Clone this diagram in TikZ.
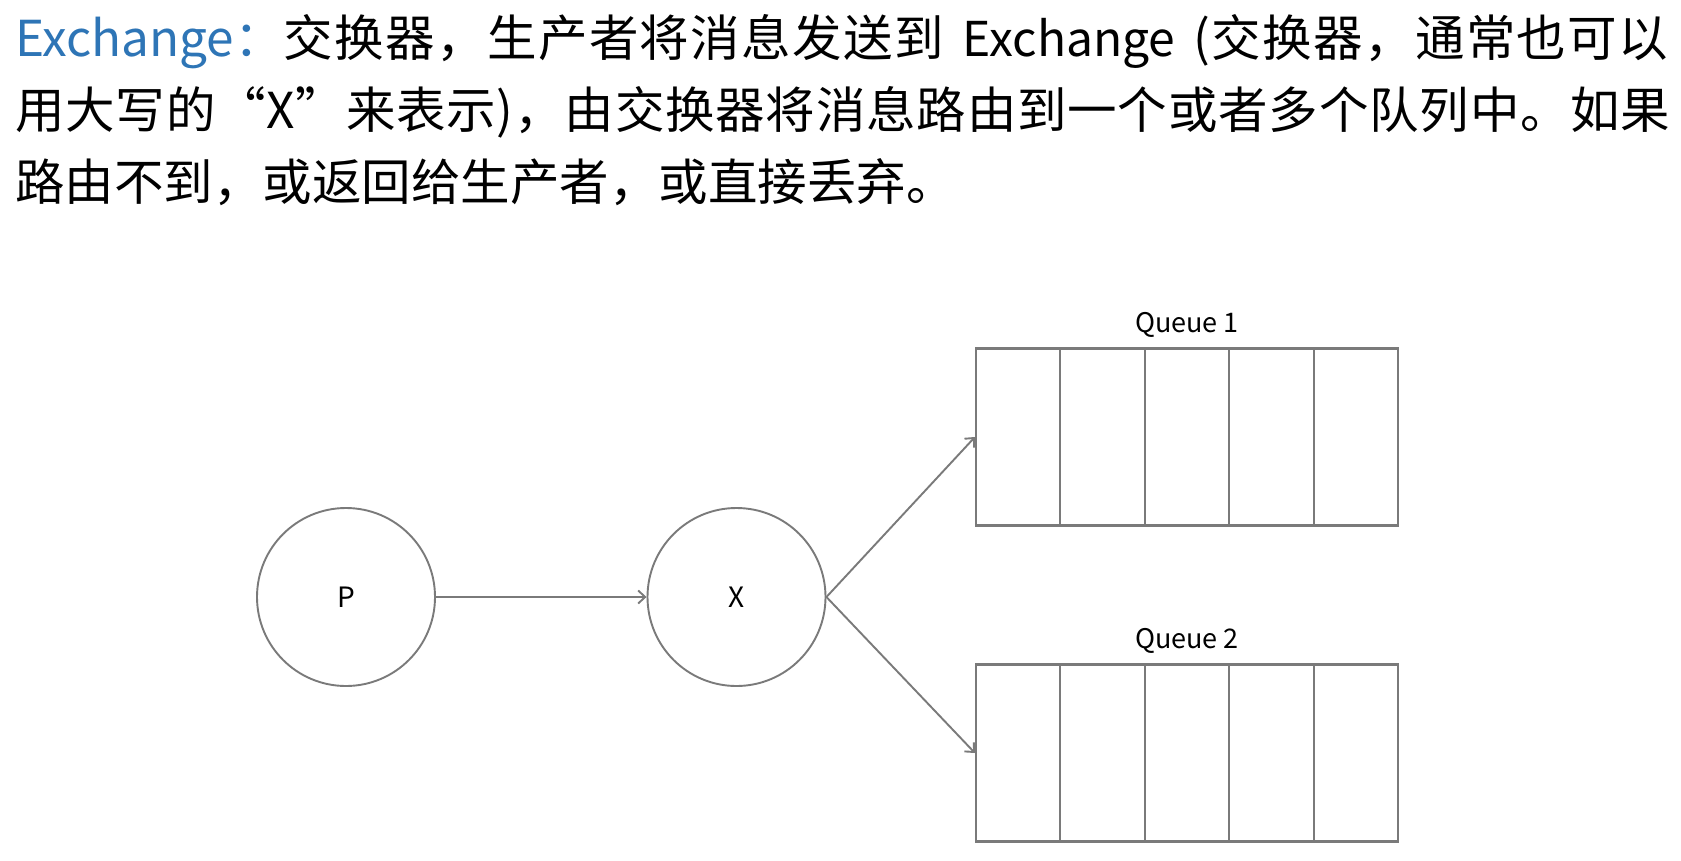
\documentclass[tikz,border=0pt]{standalone}
\usepackage{fontspec}
\setmainfont{Noto Sans CJK SC}
\newfontfamily\jfonta[LetterSpace=2.8]{Noto Sans CJK SC}
\newfontfamily\jfontb[LetterSpace=1.6]{Noto Sans CJK SC}
\usetikzlibrary{arrows.meta,calc}
\definecolor{exblue}{HTML}{2E75B6}
\definecolor{linegray}{HTML}{7A7A7A}
\tikzset{
  para/.style={anchor=base west, inner sep=0pt, font=\fontsize{49.5}{49.5}\selectfont},
  circ/.style={circle, draw=linegray, line width=1.9pt, minimum size=178pt, inner sep=0pt, font=\fontsize{28}{28}\selectfont},
  qbox/.style={rectangle, draw=linegray, line width=2.1pt, minimum width=422pt, minimum height=177pt, inner sep=0pt},
  qdiv/.style={draw=linegray, line width=2.1pt},
  qlbl/.style={inner sep=0pt, font=\fontsize{27}{27}\selectfont},
  arr/.style={draw=linegray, line width=1.9pt, -{Straight Barb[length=7pt,width=13pt]}}
}
\begin{document}
\begin{tikzpicture}[x=1pt,y=-1pt]
\useasboundingbox[fill=white] (0,0) rectangle (1681,860);
% paragraph text
\node[para] (l1) at (15,56) {\textcolor{exblue}{Exchange：}{\jfonta 交换器，生产者将消息发送到}\hspace{19pt}{\fontsize{48}{48}\selectfont Exchange}\hspace{18pt}{\jfonta (交换器，通常也可以}};
\node[para] (l2) at (15,128) {\jfontb 用大写的“X”来表示)，由交换器将消息路由到一个或者多个队列中。如果};
\node[para] (l3) at (15,200) {路由不到，或返回给生产者，或直接丢弃。};
% circles
\node[circ] (P) at (346,597) {P};
\node[circ] (X) at (736.5,597) {X};
% queues
\node[qbox] (q1) at (1187,437) {};
\node[qbox] (q2) at (1187,753) {};
\foreach \q in {q1,q2}{
  \foreach \i in {1,2,3,4}{
    \draw[qdiv] ($(\q.north west)!\i/5!(\q.north east)$) -- ($(\q.south west)!\i/5!(\q.south east)$);
  }
}
\node[qlbl] (q1l) at ($(q1.north)+(0,-23)$) {Queue 1};
\node[qlbl] (q2l) at ($(q2.north)+(0,-23)$) {Queue 2};
% connectors
\draw[arr] (P.east) -- (X.west);
\draw[arr] (X.east) -- (q1.west);
\draw[arr] (X.east) -- (q2.west);
\end{tikzpicture}
\end{document}
